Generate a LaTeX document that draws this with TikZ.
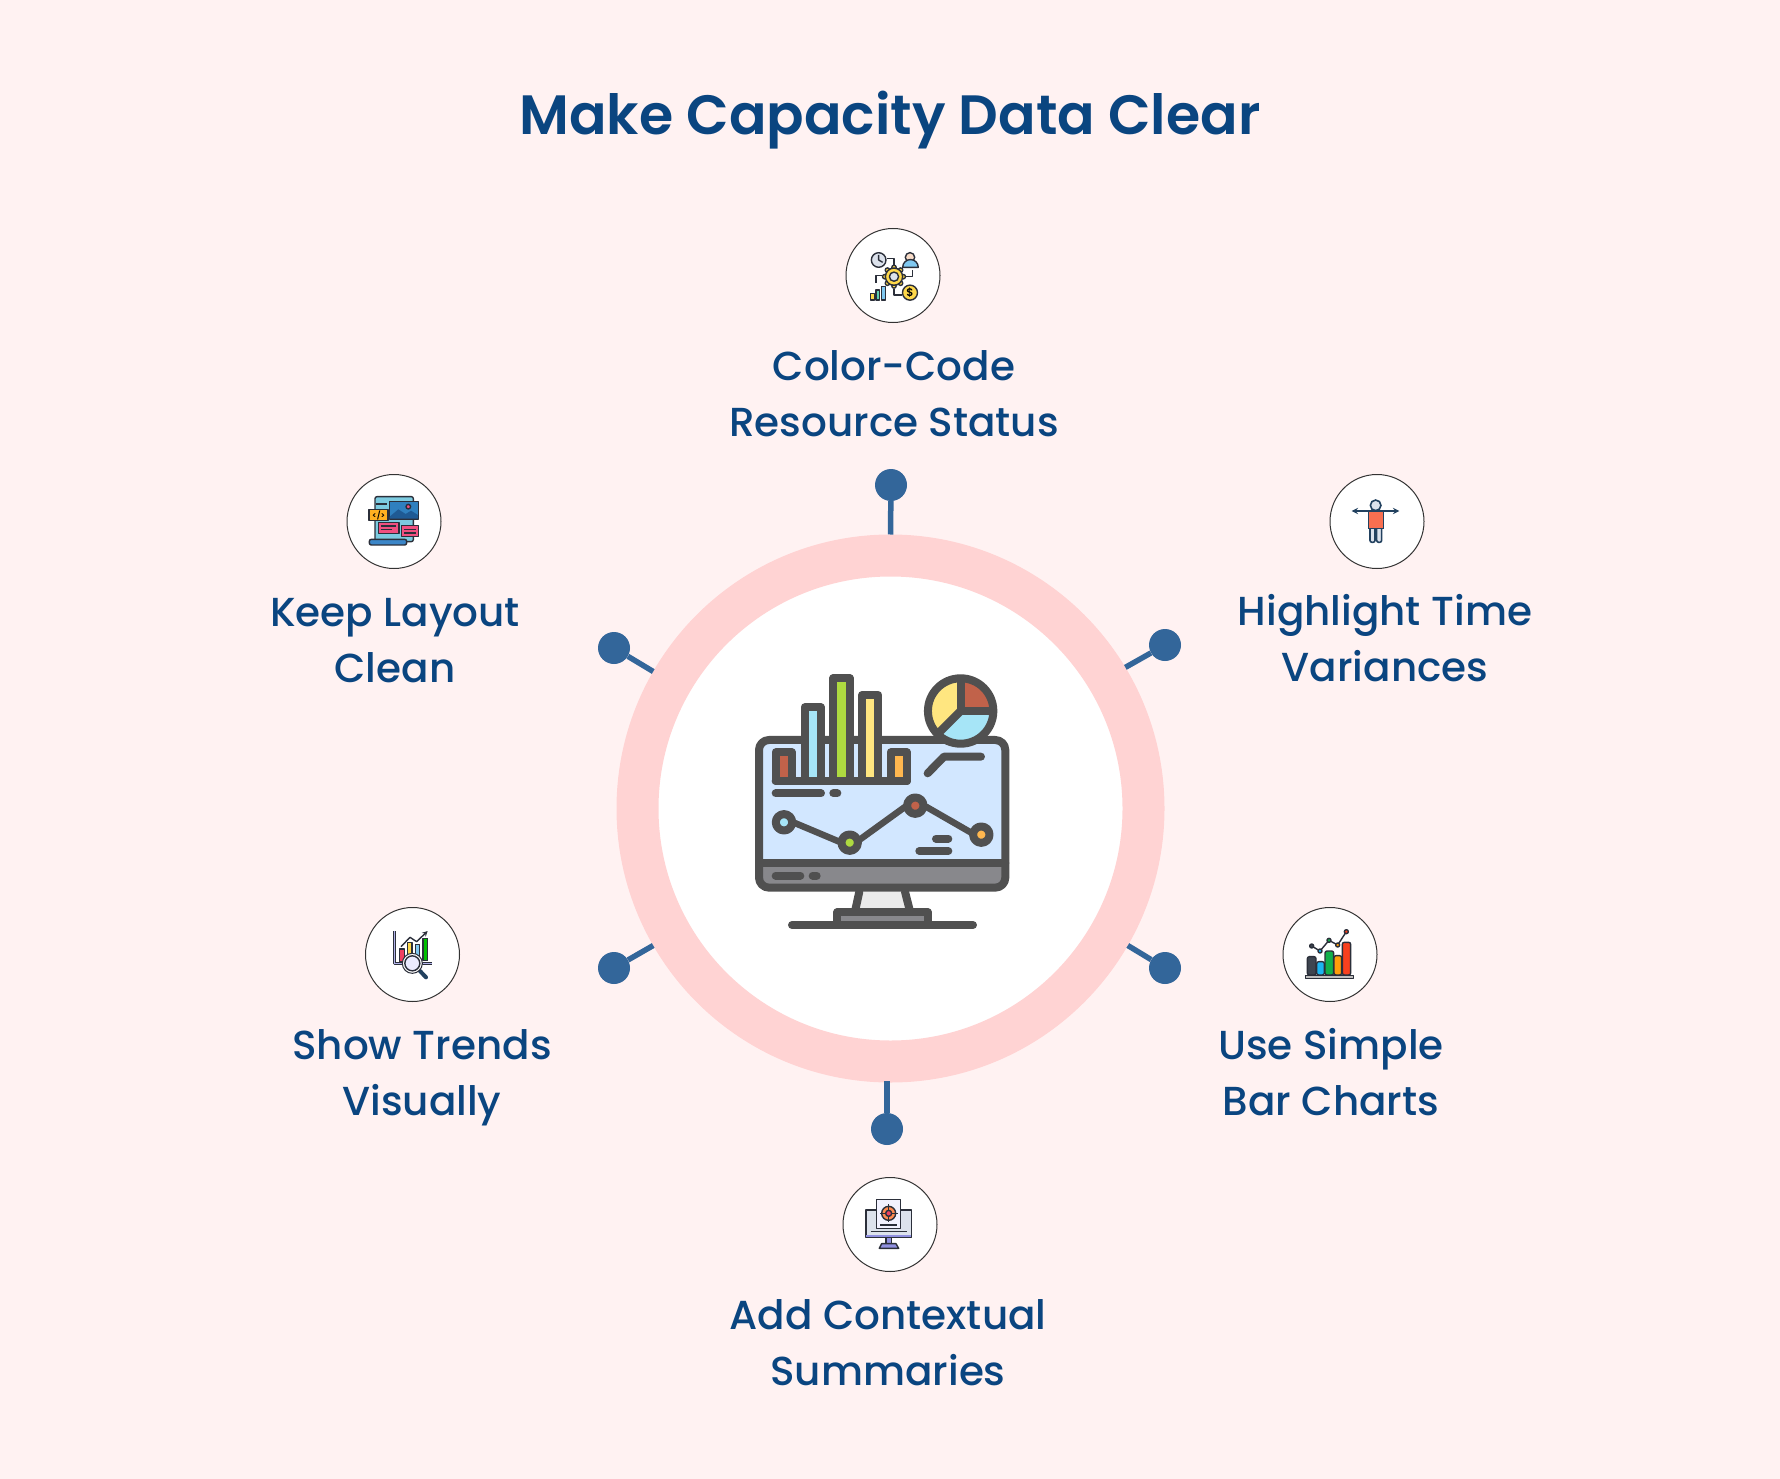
\documentclass[tikz,border=0pt]{standalone}
\usepackage{fontspec}
\setmainfont{Poppins Medium}
\newfontfamily\titlefont{Poppins SemiBold}
\definecolor{pagepink}{HTML}{FFF2F2}
\definecolor{ringpink}{HTML}{FFD3D3}
\definecolor{inkblue}{HTML}{0A4580}
\definecolor{pinblue}{HTML}{33669A}
\definecolor{monogray}{HTML}{505050}
\definecolor{screenblue}{HTML}{D2E7FF}
\definecolor{basegray}{HTML}{88888C}
\definecolor{chartred}{HTML}{C1624A}
\definecolor{chartblue}{HTML}{A6E5F7}
\definecolor{chartgreen}{HTML}{AEDA40}
\definecolor{chartyellow}{HTML}{FFE680}
\definecolor{chartorange}{HTML}{FFB74F}
\definecolor{iconink}{HTML}{2B2F3A}
\definecolor{shirtred}{HTML}{F96F50}
\definecolor{navyink}{HTML}{22415F}
\definecolor{pageblue}{HTML}{7CCBE0}
\definecolor{imageblue}{HTML}{2F80BF}
\definecolor{hillblue}{HTML}{1F5A94}
\definecolor{boxpink}{HTML}{F05080}
\definecolor{tagorange}{HTML}{FFB020}
\definecolor{rollblue}{HTML}{3B86C8}
\definecolor{gearyellow}{HTML}{FFD84A}
\definecolor{tealbar}{HTML}{60D0B0}
\definecolor{skybar}{HTML}{80C8F0}
\definecolor{palegray}{HTML}{DCE2EC}
\definecolor{skinpale}{HTML}{F8DCC8}
\definecolor{violet}{HTML}{9090E0}
\definecolor{targetorange}{HTML}{FF8A50}
\definecolor{targetred}{HTML}{F04060}
\tikzset{
  label/.style={text=inkblue,align=center,font=\fontsize{40.5}{56}\selectfont},
  pindot/.style={circle,fill=pinblue,inner sep=0pt,minimum size=32pt},
  pinline/.style={draw=pinblue,line width=5.5pt},
  iconring/.style={circle,draw=black!80,fill=white,line width=1pt,inner sep=0pt,minimum size=94pt},
  cropped/.style={x=0.3333pt,y=-0.3333pt},
  mono/.style={draw=monogray,line width=8pt,line cap=round,line join=round},
  ink/.style={draw=iconink,line width=1.4pt,line join=round},
}
\begin{document}
\begin{tikzpicture}[x=1pt,y=-1pt]
  \useasboundingbox (0,0) rectangle (1780,1479);
  \fill[pagepink] (0,0) rectangle (1780,1479);

  \node[text=inkblue,font=\fontsize{55.4}{60}\selectfont\titlefont] (title) at (890,120) {Make Capacity Data Clear};

  %anneau
  \node[circle,draw=ringpink,fill=white,line width=42pt,inner sep=0pt,minimum size=506pt] (ring) at (890.5,808.5) {};

  %pins
  \node[pindot] (dotT) at (891,485) {};
  \node[pindot] (dotUR) at (1165,645) {};
  \node[pindot] (dotLR) at (1165,968) {};
  \node[pindot] (dotB) at (887,1129) {};
  \node[pindot] (dotLL) at (614,968) {};
  \node[pindot] (dotUL) at (614,648) {};
  \coordinate (ringB) at (887,1081);
  \draw[pinline] (ring.90) -- (dotT);
  \draw[pinline] (ring.31) -- (dotUR);
  \draw[pinline] (ring.-30) -- (dotLR);
  \draw[pinline] (ringB) -- (dotB);
  \draw[pinline] (ring.210) -- (dotLL);
  \draw[pinline] (ring.150) -- (dotUL);

  %textes
  \node[label] (textT) at (894,394) {Color-Code\\Resource Status};
  \node[label] (textUR) at (1385,638) {Highlight Time\\Variances};
  \node[label] (textLR) at (1331,1072) {Use Simple\\Bar Charts};
  \node[label] (textB) at (888,1343) {Add Contextual\\Summaries};
  \node[label] (textLL) at (422,1078) {Show Trends\\Visually};
  \node[label] (textUL) at (395,641) {Keep Layout\\Clean};

  %petits cercles
  \node[iconring] (iconT) at (893,275.5) {};
  \node[iconring] (iconUR) at (1377,521.5) {};
  \node[iconring] (iconLR) at (1330,954.5) {};
  \node[iconring] (iconB) at (890,1224.5) {};
  \node[iconring] (iconLL) at (412.5,954.5) {};
  \node[iconring] (iconUL) at (394,521.5) {};

  %ecran central
  \begin{scope}[shift={(720,640)},cropped]
    \fill[basegray,rounded corners=10pt] (117,300) rectangle (856,743);
    \fill[screenblue,rounded corners=10pt] (117,670) -- (117,300) -- (856,300) -- (856,670) [sharp corners] -- cycle;
    \fill[black!8] (418,755) -- (555,755) -- (569,810) -- (406,810) -- cycle;
    \draw[mono] (418,755) -- (406,810);
    \draw[mono] (555,755) -- (569,810);
    \draw[mono,fill=basegray] (352,855) |- (623,817) -- (623,855);
    \draw[mono] (216,855) -- (759,855);
    \draw[mono,rounded corners=10pt] (117,300) rectangle (856,743);
    \draw[mono] (117,670) -- (856,670);
    %barres
    \foreach \xa/\xb/\ytop/\barcol in {167/216/337/chartred,254/303/202/chartblue,340/389/115/chartgreen,426/475/165/chartyellow,512/561/337/chartorange}{
      \draw[mono,fill=\barcol] (\xa,423) -- (\xa,\ytop) -- (\xb,\ytop) -- (\xb,423);
    }
    \draw[mono] (167,423) -- (561,423);
    \draw[mono] (167,460) -- (303,460);
    \draw[mono] (340,460) -- (352,460);
    %camembert
    \fill[white] (722,213) circle[radius=32.7pt];
    \fill[chartred] (722,213) -- ++(0:32.7pt) arc[start angle=0,end angle=90,radius=32.7pt] -- cycle;
    \fill[chartyellow] (722,213) -- ++(90:32.7pt) arc[start angle=90,end angle=225,radius=32.7pt] -- cycle;
    \fill[chartblue] (722,213) -- ++(225:32.7pt) arc[start angle=225,end angle=360,radius=32.7pt] -- cycle;
    \draw[mono] (722,213) circle[radius=32.7pt];
    \draw[mono,line cap=butt] (722,115) -- (722,213) -- (820,213);
    \draw[mono,line cap=butt] (722,213) -- ++(225:32.7pt);
    \draw[mono] (623,400) -- (672,350) -- (783,350);
    %courbe
    \draw[mono,line width=6.5pt] (222,548) -- (360,606) (415,602) -- (556,500) (618,500) -- (757,580);
    \foreach \px/\py/\dotcol in {192/547/chartblue,389/608/chartgreen,586/497/chartred,784/584/chartorange}{
      \draw[mono,fill=\dotcol] (\px,\py) circle[radius=8.2pt];
    }
    \draw[mono] (648,596) -- (685,596);
    \draw[mono] (598,633) -- (685,633);
    \draw[mono] (167,707) -- (241,707);
    \draw[mono] (278,707) -- (290,707);
  \end{scope}

  %icone haut
  \begin{scope}[shift={(830,215)},cropped]
    \draw[ink,fill=palegray] (146,135) circle[radius=7.3pt];
    \draw[ink] (146,120) -- (146,135) -- (158,142);
    \draw[ink,fill=skinpale] (240,127) circle[radius=4.7pt];
    \draw[ink,fill=skybar] (218,157) arc[start angle=180,end angle=0,radius=7.8pt] -- cycle;
    \draw[ink] (172,130) -| (192,150);
    \draw[ink] (247,165) |- (228,185);
    \draw[ink] (155,182) -| (138,205);
    \draw[ink] (192,222) |- (215,240);
    \foreach \a in {0,45,...,315}{
      \draw[ink,fill=gearyellow] (192,185) ++(\a:9.3pt) circle[radius=2.2pt];
    }
    \draw[ink,fill=gearyellow] (192,185) circle[radius=8.6pt];
    \draw[ink,fill=palegray] (192,185) circle[radius=4.6pt];
    \draw[ink,fill=gearyellow] (122,235) rectangle (133,255);
    \draw[ink,fill=tealbar] (138,225) rectangle (149,255);
    \draw[ink,fill=skybar] (154,215) rectangle (167,255);
    \node[ink,fill=gearyellow,circle,inner sep=0pt,minimum size=15pt,font=\fontsize{11}{11}\selectfont\titlefont] (dollar) at (240,233) {\$};
  \end{scope}

  %icone haut droite
  \begin{scope}[shift={(1310,460)},cropped]
    \draw[navyink,line width=1.8pt,stealth-stealth] (125,153) -- (268,153);
    \draw[navyink,line width=1.6pt,fill=palegray,rounded corners=2pt] (180,200) rectangle (195,247);
    \draw[navyink,line width=1.6pt,fill=palegray,rounded corners=2pt] (200,200) rectangle (215,247);
    \fill[shirtred] (175,155) rectangle (220,205);
    \draw[navyink,line width=1.2pt] (175,155) -- (175,205) -- (220,205) -- (220,155);
    \draw[navyink,line width=1.6pt,fill=palegray] (197,136) circle[radius=5.3pt];
  \end{scope}

  %icone bas droite
  \begin{scope}[shift={(1270,895)},cropped]
    \foreach \xa/\xb/\ytop/\barcol in {112/138/185/3E4550,140/163/200/1CB5F0,165/191/168/12B04A,192/215/182/FF9D0A,217/242/142/F8401E}{
      \definecolor{barfill}{HTML}{\barcol}
      \draw[ink,fill=barfill,rounded corners=2pt] (\xa,240) -- (\xa,\ytop) -- (\xb,\ytop) -- (\xb,240) -- cycle;
    }
    \draw[ink,fill=black!25] (107,241) rectangle (250,250);
    \draw[ink] (125,153) -- (150,168) -- (177,136) -- (203,150) -- (229,110);
    \foreach \px/\py/\dotcol in {125/153/3E4550,150/168/1CB5F0,177/136/12B04A,203/150/FF9D0A,229/110/F8401E}{
      \definecolor{dotfill}{HTML}{\dotcol}
      \draw[ink,fill=dotfill] (\px,\py) circle[radius=2pt];
    }
  \end{scope}

  %icone bas
  \begin{scope}[shift={(830,1165)},cropped]
    \draw[ink,fill=palegray] (108,135) rectangle (244,218);
    \fill[violet] (109,209) rectangle (243,217);
    \draw[ink,fill=violet] (168,218) rectangle (184,236);
    \draw[ink,fill=violet] (148,250) -- (155,236) -- (198,236) -- (206,250) -- cycle;
    \draw[ink] (122,200) -- (232,200);
    \draw[ink,fill=blue!5!white] (140,103) rectangle (212,190);
    \draw[ink] (150,180) -- (200,180);
    \draw[ink,fill=targetorange] (176,145) circle[radius=7pt];
    \draw[ink] (176,118) -- (176,172);
    \draw[ink] (150,145) -- (203,145);
    \draw[ink,fill=targetred] (176,145) circle[radius=3pt];
  \end{scope}

  %icone bas gauche
  \begin{scope}[shift={(355,895)},cropped]
    \draw[ink,line width=2.6pt] (118,108) -- (118,205) -- (230,205);
    \draw[violet!70!white,line width=1.2pt] (118,108) -- (118,205) -- (230,205);
    \draw[ink,fill=targetred] (133,162) rectangle (149,200);
    \draw[ink,fill=gearyellow] (158,143) rectangle (171,200);
    \draw[ink,fill=skybar] (181,148) rectangle (194,200);
    \draw[ink,fill=green!75!black] (204,130) rectangle (218,197);
    \draw[ink,-stealth] (138,155) -- (165,127) -- (185,140) -- (218,108);
    \draw[navyink,line width=4pt,line cap=round] (195,228) -- (213,247);
    \draw[ink,fill=white,line width=1pt] (172,205) circle[radius=10pt];
    \draw[ink,fill=blue!8!white] (172,205) circle[radius=7.5pt];
  \end{scope}

  %icone haut gauche
  \begin{scope}[shift={(335,460)},cropped]
    \draw[ink,fill=pageblue,rounded corners=2pt] (120,110) rectangle (235,245);
    \draw[ink] (122,132) -- (155,132);
    \draw[ink,fill=imageblue] (163,125) rectangle (250,177);
    \fill[hillblue] (164,170) -- (190,148) -- (212,162) -- (228,152) -- (249,165) -- (249,176) -- (164,176) -- cycle;
    \draw[ink,fill=boxpink] (220,140) circle[radius=2.3pt];
    \node[ink,fill=tagorange,inner sep=0pt,minimum width=19pt,minimum height=11pt,font=\fontsize{8}{8}\selectfont\titlefont] (codetag) at (131,165) {</>};
    \draw[ink,fill=boxpink] (130,187) rectangle (192,220);
    \draw[ink] (138,198) -- (184,198);
    \draw[ink] (138,209) -- (172,209);
    \draw[ink,fill=boxpink] (200,197) rectangle (250,230);
    \draw[ink] (208,208) -- (242,208);
    \draw[ink] (208,219) -- (242,219);
    \draw[ink,fill=rollblue,rounded corners=2pt] (103,238) rectangle (215,255);
  \end{scope}
\end{tikzpicture}
\end{document}
